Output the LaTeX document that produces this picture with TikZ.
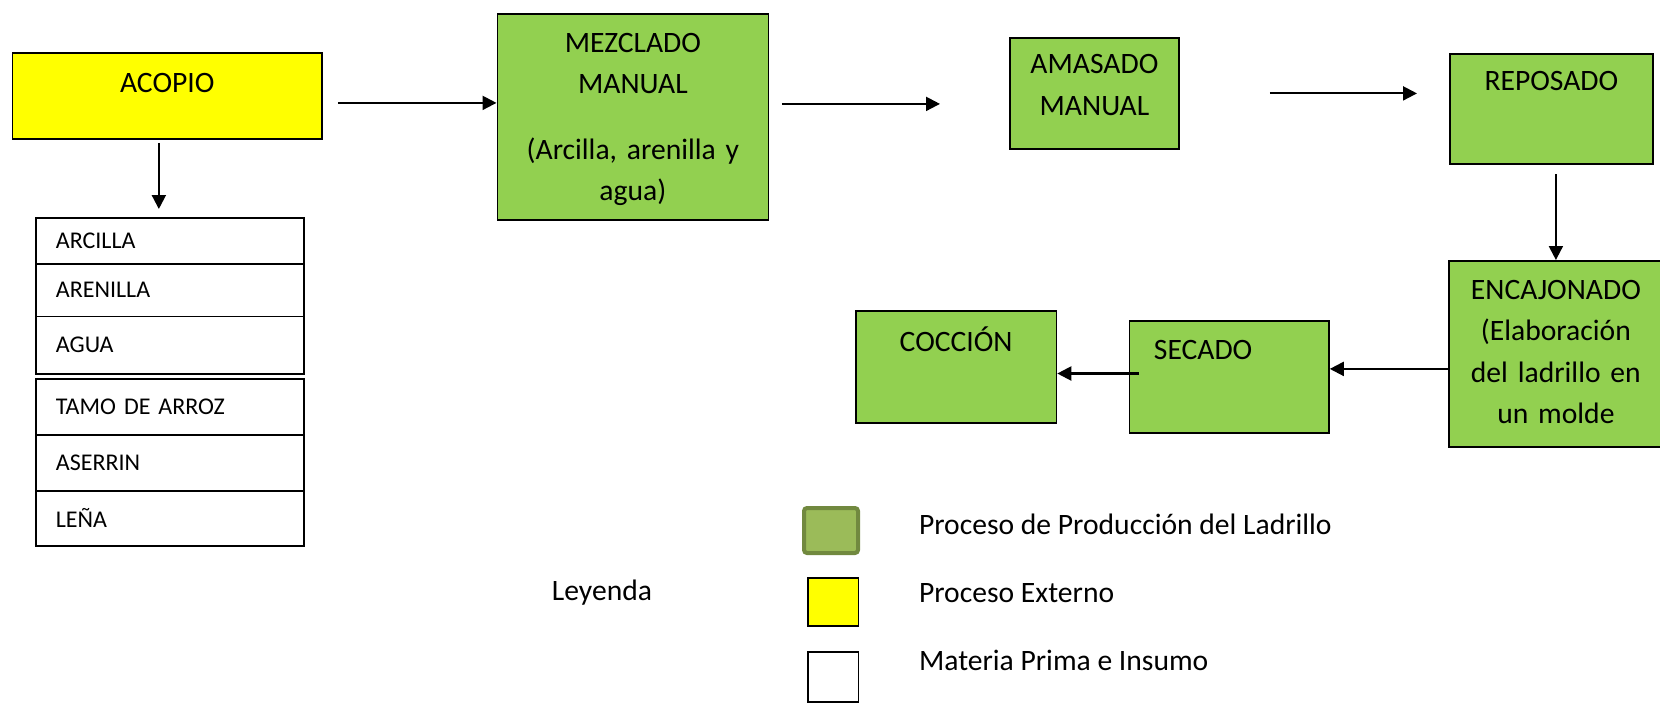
\documentclass[tikz,border=0pt]{standalone}
\usepackage{fontspec}
\setmainfont{Carlito}
\usetikzlibrary{arrows.meta}
\definecolor{procgreen}{HTML}{92D050}
\definecolor{extyellow}{HTML}{FFFF00}
\definecolor{legfill}{HTML}{9BBB59}
\definecolor{legline}{HTML}{71893F}

\begin{document}
\begin{tikzpicture}[x=0.5pt, y=-0.5pt,
    every node/.style={font=\fontsize{14.8}{20.75}\selectfont},
    proc/.style={draw, line width=0.9pt, fill=procgreen, align=center, inner sep=0pt, anchor=north west},
    mat/.style={draw, line width=0.9pt, fill=white, align=left, inner xsep=10pt, inner ysep=0pt,
      text width=114pt, anchor=north west, font=\fontsize{12}{14}\selectfont},
    flow/.style={-{Triangle[length=7pt,width=7pt]}, line width=1.05pt}]
    \useasboundingbox (0,0) rectangle (1660,702);
    % external process
    \node[proc, fill=extyellow, text width=154.75pt, text height=19.75pt, text depth=23.25pt] (acopio) at (11.6,52) {ACOPIO};
    % raw materials
    \foreach \nm/\txt/\yy/\hh in {arcilla/ARCILLA/217/23pt, arenilla/ARENILLA/263/26.25pt, agua/AGUA/315.5/28.6pt,
        tamo/TAMO DE ARROZ/378/28pt, aserrin/ASERRIN/434/28pt, lena/LEÑA/490/27.5pt}
      \node[mat, minimum height=\hh] (\nm) at (35,\yy) {\txt};
    % production steps
    \node[proc, text width=135.5pt, text height=19.4pt, text depth=83.6pt] (mezclado) at (496.5,12.7)
      {MEZCLADO\\MANUAL\\[12pt](Arcilla, arenilla y\\agua)};
    \node[proc, text width=84.5pt, text height=18pt, text depth=37.5pt] (amasado) at (1009,37) {AMASADO\\MANUAL};
    \node[proc, text width=101.5pt, text height=18.5pt, text depth=36.5pt] (reposado) at (1449,53) {REPOSADO};
    \node[proc, text width=107pt, text height=19.25pt, text depth=73.75pt] (encajonado) at (1448,260)
      {ENCAJONADO\\(Elaboración\\del ladrillo en\\un molde};
    \node[proc, align=left, inner xsep=12.25pt, text width=75.25pt, text height=19.25pt, text depth=36.75pt] (secado) at (1128.5,320) {SECADO};
    \node[proc, text width=100.25pt, text height=20.25pt, text depth=35.75pt] (coccion) at (855,310) {COCCIÓN};
    % connectors
    \draw[flow, shorten <=7.5pt] ([yshift=-3.5pt]acopio.east) -- ([yshift=-3.5pt]acopio.east -| mezclado.west);
    \draw[flow, shorten <=1.5pt, shorten >=4pt] ([xshift=-4.2pt]acopio.south) -- ([xshift=-4.2pt]acopio.south |- arcilla.north);
    \draw[flow, shorten <=6.25pt, shorten >=34.5pt] ([yshift=6.35pt]mezclado.east) -- ([yshift=6.35pt]mezclado.east -| amasado.west);
    \draw[flow, shorten <=45pt, shorten >=16pt] (amasado.east) -- (amasado.east -| reposado.west);
    \draw[flow, shorten <=4.75pt] (reposado.south -| encajonado.north) -- (encajonado.north);
    \draw[flow] ([yshift=-7.5pt]encajonado.west) -- ([yshift=-7.5pt]encajonado.west -| secado.east);
    \draw[flow, shorten <=-5.25pt] ([yshift=1.7pt]secado.west) -- ([yshift=1.7pt]secado.west -| coccion.east);
    % legend
    \node (leyenda) at (602,593) {Leyenda};
    \node[draw=legline, fill=legfill, line width=2pt, rounded corners=1.5pt, inner sep=0pt, anchor=north west,
      minimum width=27pt, minimum height=22.5pt] (legprod) at (802,506) {};
    \node[draw, fill=extyellow, line width=0.9pt, inner sep=0pt, anchor=north west,
      minimum width=25.25pt, minimum height=24pt] (legext) at (807,577) {};
    \node[draw, fill=white, line width=0.9pt, inner sep=0pt, anchor=north west,
      minimum width=25.25pt, minimum height=25pt] (legmat) at (807,651) {};
    \node[anchor=west] (txtprod) at (912,524) {Proceso de Producción del Ladrillo};
    \node[anchor=west] (txtext) at (912,593) {Proceso Externo};
    \node[anchor=west] (txtmat) at (912,660) {Materia Prima e Insumo};
\end{tikzpicture}
\end{document}
